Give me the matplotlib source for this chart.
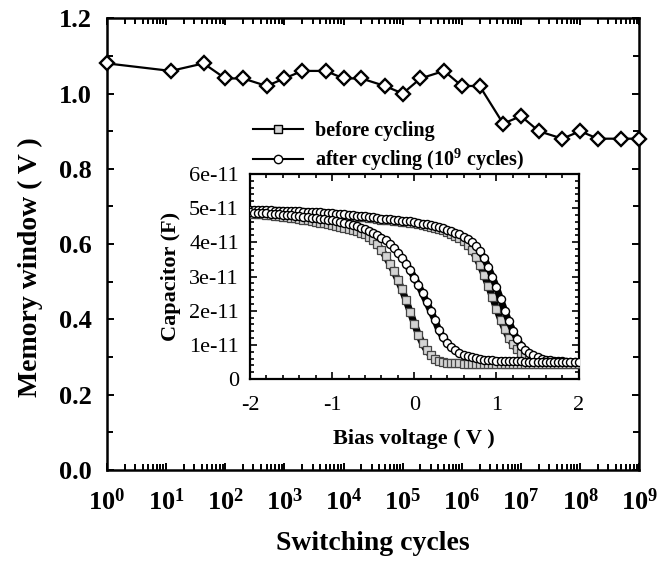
import numpy as np
import matplotlib
matplotlib.use('Agg')
import matplotlib.pyplot as plt
from matplotlib.lines import Line2D
from matplotlib.ticker import LogLocator, MultipleLocator, NullFormatter

plt.rcParams['font.family'] = ['Liberation Serif', 'DejaVu Serif']
plt.rcParams['mathtext.fontset'] = 'custom'
plt.rcParams['mathtext.rm'] = 'Liberation Serif:bold'
plt.rcParams['mathtext.bf'] = 'Liberation Serif:bold'
plt.rcParams['mathtext.it'] = 'Liberation Serif:bold:italic'

# main chart: memory window vs switching cycles
cycles = [1, 12, 43, 1e2, 2e2, 5e2, 1e3, 2e3, 5e3, 1e4, 2e4, 5e4, 1e5, 2e5, 5e5,
          1e6, 2e6, 5e6, 1e7, 2e7, 5e7, 1e8, 2e8, 5e8, 1e9]
window = [1.08, 1.06, 1.08, 1.04, 1.04, 1.02, 1.04, 1.06, 1.06, 1.04, 1.04, 1.02, 1.00,
          1.04, 1.06, 1.02, 1.02, 0.92, 0.94, 0.90, 0.88, 0.90, 0.88, 0.88, 0.88]
ytick_vals = [0.0, 0.2, 0.4, 0.6, 0.8, 1.0, 1.2]

# inset: C-V loops, bias sweep -2..2 V in 0.05 V steps, capacitance in 1e-11 F
bias = np.linspace(-2, 2, 81)
before_up = [4.93, 4.93, 4.92, 4.92, 4.92, 4.91, 4.91, 4.91, 4.90, 4.90,
             4.89, 4.89, 4.88, 4.88, 4.87, 4.87, 4.86, 4.85, 4.84, 4.83,
             4.82, 4.81, 4.80, 4.79, 4.78, 4.77, 4.75, 4.74, 4.73, 4.71,
             4.70, 4.68, 4.66, 4.65, 4.64, 4.62, 4.61, 4.60, 4.59, 4.58,
             4.56, 4.54, 4.52, 4.49, 4.46, 4.43, 4.39, 4.35, 4.30, 4.25,
             4.19, 4.12, 4.04, 3.93, 3.78, 3.57, 3.33, 3.04, 2.73, 2.40,
             2.06, 1.74, 1.46, 1.21, 1.01, 0.87, 0.77, 0.69, 0.63, 0.58,
             0.55, 0.53, 0.51, 0.50, 0.49, 0.48, 0.48, 0.47, 0.47, 0.47,
             0.47]
before_down = [4.85, 4.84, 4.83, 4.82, 4.81, 4.80, 4.78, 4.77, 4.75, 4.74,
               4.72, 4.70, 4.68, 4.66, 4.64, 4.62, 4.60, 4.58, 4.56, 4.53,
               4.50, 4.48, 4.45, 4.42, 4.39, 4.36, 4.32, 4.28, 4.23, 4.16,
               4.06, 3.94, 3.78, 3.59, 3.38, 3.15, 2.90, 2.62, 2.30, 1.96,
               1.62, 1.30, 1.04, 0.84, 0.70, 0.60, 0.54, 0.50, 0.48, 0.47,
               0.46, 0.46, 0.45, 0.45, 0.45, 0.45, 0.45, 0.45, 0.45, 0.45,
               0.45, 0.45, 0.45, 0.45, 0.45, 0.45, 0.45, 0.45, 0.45, 0.45,
               0.45, 0.45, 0.45, 0.45, 0.45, 0.45, 0.45, 0.45, 0.45, 0.45,
               0.45]
after_up = [4.95, 4.95, 4.95, 4.94, 4.94, 4.94, 4.93, 4.93, 4.93, 4.92,
            4.92, 4.91, 4.91, 4.90, 4.90, 4.89, 4.89, 4.88, 4.87, 4.86,
            4.85, 4.84, 4.83, 4.82, 4.81, 4.80, 4.78, 4.77, 4.76, 4.74,
            4.73, 4.71, 4.69, 4.68, 4.67, 4.65, 4.64, 4.63, 4.62, 4.61,
            4.59, 4.57, 4.55, 4.53, 4.50, 4.47, 4.44, 4.41, 4.37, 4.33,
            4.28, 4.23, 4.17, 4.10, 4.02, 3.90, 3.74, 3.53, 3.28, 2.99,
            2.68, 2.34, 2.00, 1.69, 1.41, 1.17, 0.98, 0.85, 0.76, 0.69,
            0.64, 0.60, 0.57, 0.55, 0.54, 0.53, 0.52, 0.51, 0.51, 0.50,
            0.50]
after_down = [4.88, 4.87, 4.86, 4.86, 4.85, 4.84, 4.83, 4.82, 4.81, 4.80,
              4.79, 4.78, 4.76, 4.75, 4.74, 4.72, 4.71, 4.69, 4.68, 4.66,
              4.64, 4.62, 4.60, 4.57, 4.54, 4.51, 4.47, 4.43, 4.38, 4.33,
              4.27, 4.21, 4.14, 4.06, 3.96, 3.84, 3.70, 3.55, 3.38, 3.18,
              2.97, 2.75, 2.51, 2.25, 1.99, 1.73, 1.42, 1.22, 1.06, 0.93,
              0.84, 0.76, 0.70, 0.66, 0.63, 0.61, 0.59, 0.57, 0.56, 0.55,
              0.54, 0.54, 0.53, 0.53, 0.52, 0.52, 0.52, 0.51, 0.51, 0.51,
              0.51, 0.50, 0.50, 0.50, 0.50, 0.50, 0.50, 0.50, 0.50, 0.50,
              0.50]
inset_yticks = [0, 1, 2, 3, 4, 5, 6]
inset_ylabels = ['0', '1e-11', '2e-11', '3e-11', '4e-11', '5e-11', '6e-11']

fig = plt.figure(figsize=(6.67, 5.64), dpi=100)
ax = fig.add_axes([0.1604, 0.1667, 0.798, 0.801])

ax.plot(cycles, window, '-', color='k', lw=1.6, marker='D', ms=7, mfc='white',
        mec='k', mew=1.7, clip_on=False, zorder=5)
ax.set_xscale('log')
ax.set_xlim(1, 1e9)
ax.set_ylim(0, 1.2)
ax.set_xticks([10.0 ** i for i in range(10)])
ax.set_xticklabels([r'$\mathbf{10^{%d}}$' % i for i in range(10)])
ax.xaxis.set_minor_locator(LogLocator(base=10, subs=range(2, 10), numticks=20))
ax.xaxis.set_minor_formatter(NullFormatter())
ax.set_yticks(ytick_vals)
ax.set_yticklabels(['%.1f' % v for v in ytick_vals])
ax.yaxis.set_minor_locator(MultipleLocator(0.1))
ax.tick_params(which='both', direction='in', top=True, right=True, width=1.4)
ax.tick_params(which='major', length=5)
ax.tick_params(which='minor', length=4)
ax.tick_params(axis='x', which='major', pad=13, labelsize=19)
ax.tick_params(axis='y', which='major', pad=11, labelsize=19)
for lab in ax.get_yticklabels():
    lab.set_fontweight('bold')
for s in ax.spines.values():
    s.set_linewidth(1.8)
ax.set_xlabel('Switching cycles', fontsize=20, fontweight='bold')
ax.set_ylabel('Memory window ( V )', fontsize=20, fontweight='bold')
ax.xaxis.set_label_coords(0.5, -0.135)
ax.yaxis.set_label_coords(-0.12, 0.45)

# inset
ax2 = fig.add_axes([0.3748, 0.328, 0.4927, 0.3635])
ax2.plot(bias, before_up, color='k', lw=5.0, marker='s', ms=5.4, mfc='#d4d4d4',
         mec='#444444', mew=0.9, zorder=3)
ax2.plot(bias, before_down, color='k', lw=5.0, marker='s', ms=5.4, mfc='#d4d4d4',
         mec='#444444', mew=0.9, zorder=3)
ax2.plot(bias, after_up, color='k', lw=5.0, marker='o', ms=5.8, mfc='white',
         mec='k', mew=1.0, zorder=4)
ax2.plot(bias, after_down, color='k', lw=5.0, marker='o', ms=5.8, mfc='white',
         mec='k', mew=1.0, zorder=4)
ax2.set_xlim(-2, 2)
ax2.set_ylim(0, 6)
ax2.set_xticks([-2, -1, 0, 1, 2])
ax2.set_xticklabels(['-2', '-1', '0', '1', '2'])
ax2.set_yticks(inset_yticks)
ax2.set_yticklabels(inset_ylabels)
ax2.xaxis.set_minor_locator(MultipleLocator(0.2))
ax2.yaxis.set_minor_locator(MultipleLocator(0.2))
ax2.tick_params(which='both', direction='in', top=True, right=True, width=1.2,
                labelsize=16)
ax2.tick_params(which='major', length=5)
ax2.tick_params(which='minor', length=3)
ax2.tick_params(axis='x', pad=12)
ax2.tick_params(axis='y', pad=8)
for s in ax2.spines.values():
    s.set_linewidth(1.6)
ax2.set_xlabel('Bias voltage ( V )', fontsize=16, fontweight='bold', labelpad=10)
ax2.set_ylabel('Capacitor (F)', fontsize=16, fontweight='bold', labelpad=6)

h1 = Line2D([], [], color='k', lw=1.5, marker='s', ms=6, mfc='#d4d4d4', mec='k', mew=1.0)
h2 = Line2D([], [], color='k', lw=1.5, marker='o', ms=6, mfc='white', mec='k', mew=1.0)
fig.legend([h1, h2], ['before cycling', r'after cycling (10$^{\mathbf{9}}$ cycles)'],
           loc='upper left', bbox_to_anchor=(253 / 667, 1 - 121 / 564),
           frameon=False, numpoints=1, handlelength=2.5, handletextpad=0.6,
           labelspacing=0.3, borderpad=0, borderaxespad=0,
           prop={'weight': 'bold', 'size': 14.5})

fig.savefig('out.png', dpi=100)
